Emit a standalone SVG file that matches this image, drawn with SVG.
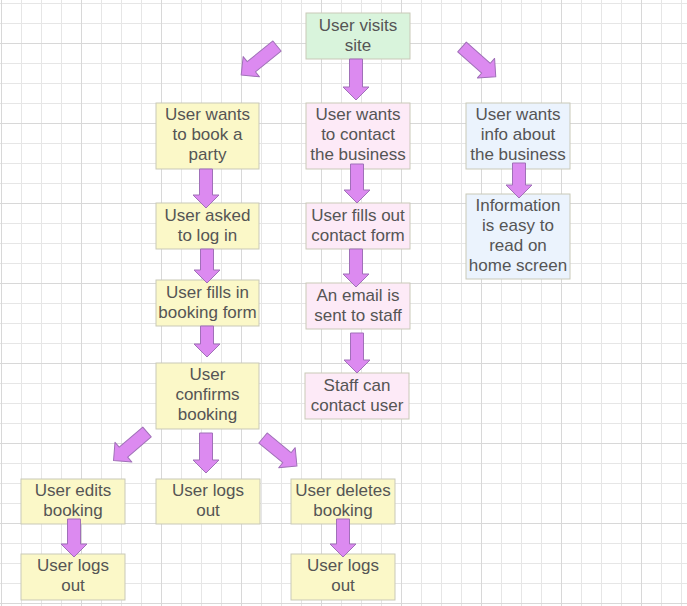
<svg xmlns="http://www.w3.org/2000/svg" width="687" height="606" viewBox="0 0 687 606">
<defs>
<pattern id="minor" patternUnits="userSpaceOnUse" x="1" y="3" width="20" height="20">
<path d="M0.5 0V20M0 0.5H20" fill="none" stroke="#e6e6e6" stroke-width="1"/>
</pattern>
<pattern id="major" patternUnits="userSpaceOnUse" x="1" y="43" width="80" height="80">
<path d="M0.5 0V80M0 0.5H80" fill="none" stroke="#d8d8d8" stroke-width="1"/>
</pattern>
</defs>
<style>
.box{stroke:#c9c9b8;stroke-width:1}
.y{fill:#fbf8c8}
.g{fill:#d9f4dc}
.p{fill:#fdeaf7}
.b{fill:#ebf3fd}
text{font-family:"Liberation Sans",Arial,sans-serif;font-size:17px;fill:#555555;text-anchor:middle}
.arr{fill:#dc8af0;stroke:#a070b8;stroke-width:1;stroke-linejoin:round}
</style>
<rect width="687" height="606" fill="#ffffff"/>
<rect width="687" height="606" fill="url(#minor)"/>
<rect width="687" height="606" fill="url(#major)"/>

<g id="n-visits"><rect class="box g" x="306" y="13" width="104" height="46"/><text x="358" y="31">User visits</text><text x="358" y="51">site</text></g>
<g id="n-party"><rect class="box y" x="156" y="103" width="103" height="66"/><text x="207.5" y="120">User wants</text><text x="207.5" y="140">to book a</text><text x="207.5" y="160">party</text></g>
<g id="n-contact"><rect class="box p" x="306" y="103" width="104" height="66"/><text x="358" y="120">User wants</text><text x="358" y="140">to contact</text><text x="358" y="160">the business</text></g>
<g id="n-info"><rect class="box b" x="466" y="103" width="104" height="66"/><text x="518" y="120">User wants</text><text x="518" y="140">info about</text><text x="518" y="160">the business</text></g>
<g id="n-login"><rect class="box y" x="156" y="203" width="103" height="46"/><text x="207.5" y="221">User asked</text><text x="207.5" y="241">to log in</text></g>
<g id="n-contactform"><rect class="box p" x="306" y="203" width="104" height="46"/><text x="358" y="221">User fills out</text><text x="358" y="241">contact form</text></g>
<g id="n-information"><rect class="box b" x="466" y="194" width="104" height="85"/><text x="518" y="211">Information</text><text x="518" y="231">is easy to</text><text x="518" y="251">read on</text><text x="518" y="271">home screen</text></g>
<g id="n-bookingform"><rect class="box y" x="156" y="280" width="103" height="46"/><text x="207.5" y="298">User fills in</text><text x="207.5" y="318">booking form</text></g>
<g id="n-email"><rect class="box p" x="306" y="283" width="104" height="46"/><text x="358" y="301">An email is</text><text x="358" y="321">sent to staff</text></g>
<g id="n-confirms"><rect class="box y" x="156" y="363" width="103" height="66"/><text x="207.5" y="380">User</text><text x="207.5" y="400">confirms</text><text x="207.5" y="420">booking</text></g>
<g id="n-staff"><rect class="box p" x="305" y="373" width="104" height="46"/><text x="357" y="391">Staff can</text><text x="357" y="411">contact user</text></g>
<g id="n-edits"><rect class="box y" x="21" y="479" width="104" height="45"/><text x="73" y="496">User edits</text><text x="73" y="516">booking</text></g>
<g id="n-logout1"><rect class="box y" x="156" y="479" width="104" height="45"/><text x="208" y="496">User logs</text><text x="208" y="516">out</text></g>
<g id="n-deletes"><rect class="box y" x="291" y="479" width="104" height="45"/><text x="343" y="496">User deletes</text><text x="343" y="516">booking</text></g>
<g id="n-logout2"><rect class="box y" x="21" y="554" width="104" height="46"/><text x="73" y="571">User logs</text><text x="73" y="591">out</text></g>
<g id="n-logout3"><rect class="box y" x="291" y="554" width="104" height="46"/><text x="343" y="571">User logs</text><text x="343" y="591">out</text></g>

<g id="connectors">
<polygon class="arr" points="0,-6.5 33,-6.5 33,-13 46,0 33,13 33,6.5 0,6.5" transform="translate(277,46) rotate(141.1)"/>
<polygon class="arr" points="0,-6.5 32,-6.5 32,-13 45,0 32,13 32,6.5 0,6.5" transform="translate(462,47) rotate(41.4)"/>
<polygon class="arr" points="0,-6.5 28,-6.5 28,-13 41,0 28,13 28,6.5 0,6.5" transform="translate(356,59) rotate(90)"/>
<polygon class="arr" points="0,-6.5 26,-6.5 26,-13 39,0 26,13 26,6.5 0,6.5" transform="translate(206,169) rotate(90)"/>
<polygon class="arr" points="0,-6.5 26,-6.5 26,-13 39,0 26,13 26,6.5 0,6.5" transform="translate(357,164) rotate(90)"/>
<polygon class="arr" points="0,-6.5 22,-6.5 22,-13 35,0 22,13 22,6.5 0,6.5" transform="translate(519,163) rotate(90)"/>
<polygon class="arr" points="0,-6.5 21,-6.5 21,-13 34,0 21,13 21,6.5 0,6.5" transform="translate(207,249) rotate(90)"/>
<polygon class="arr" points="0,-6.5 25,-6.5 25,-13 38,0 25,13 25,6.5 0,6.5" transform="translate(356,249) rotate(90)"/>
<polygon class="arr" points="0,-6.5 18,-6.5 18,-13 31,0 18,13 18,6.5 0,6.5" transform="translate(207,326) rotate(90)"/>
<polygon class="arr" points="0,-6.5 27,-6.5 27,-13 40,0 27,13 27,6.5 0,6.5" transform="translate(357,333) rotate(90)"/>
<polygon class="arr" points="0,-6.5 31,-6.5 31,-13 44,0 31,13 31,6.5 0,6.5" transform="translate(147,432) rotate(139.5)"/>
<polygon class="arr" points="0,-6.5 27,-6.5 27,-13 40,0 27,13 27,6.5 0,6.5" transform="translate(206,433) rotate(90)"/>
<polygon class="arr" points="0,-6.5 31,-6.5 31,-13 44,0 31,13 31,6.5 0,6.5" transform="translate(263,438) rotate(39.5)"/>
<polygon class="arr" points="0,-6.5 25,-6.5 25,-13 38,0 25,13 25,6.5 0,6.5" transform="translate(74,519) rotate(90)"/>
<polygon class="arr" points="0,-6.5 25,-6.5 25,-13 38,0 25,13 25,6.5 0,6.5" transform="translate(343,519) rotate(90)"/>
</g>
</svg>
